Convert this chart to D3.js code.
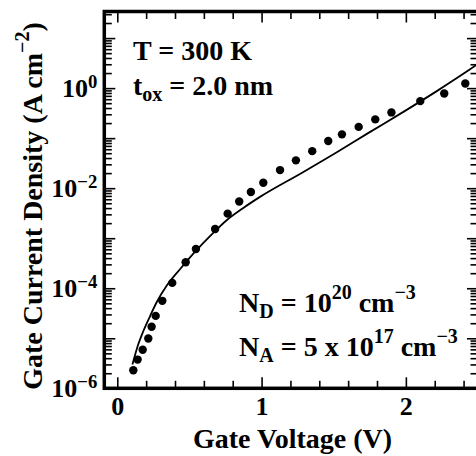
<!DOCTYPE html>
<html>
<head>
<meta charset="UTF-8">
<title>Gate Current Density vs Gate Voltage</title>
<style>
    body {
        margin: 0;
        background: #fff;
    }
    svg {
        display: block;
        font-family: "Liberation Serif", "Times New Roman", serif;
        font-weight: bold;
    }
</style>
</head>
<body>
<svg id="chart" width="476" height="456"></svg>
<script src="https://d3js.org/d3.v7.min.js"></script>
<script>
// measured gate current (dots)
const measV = [0.111, 0.141, 0.176, 0.215, 0.238, 0.266, 0.312, 0.381, 0.474, 0.545,
               0.678, 0.765, 0.845, 0.926, 1.012, 1.128, 1.238, 1.351, 1.462, 1.557,
               1.673, 1.788, 1.900, 2.100, 2.266, 2.412];
const measJ = [2.3e-6, 3.75e-6, 5.9e-6, 9.9e-6, 1.7e-5, 2.8e-5, 5.6e-5, 1.28e-4, 3.3e-4, 6.1e-4,
               1.53e-3, 3.1e-3, 5.4e-3, 8.4e-3, 1.28e-2, 2.3e-2, 3.6e-2, 5.5e-2, 8.8e-2, 0.119,
               0.168, 0.237, 0.327, 0.55, 0.78, 1.24];

// simulated gate current (solid line)
const simV = [0.105, 0.1455, 0.180, 0.2266, 0.273, 0.342, 0.4345, 0.527, 0.665, 0.758,
              0.871, 0.989, 1.287, 1.516, 1.744, 1.980, 2.209, 2.437, 2.513];
const simJ = [3.0e-6, 7.6e-6, 1.38e-5, 2.75e-5, 5.25e-5, 1.12e-4, 2.4e-4, 4.9e-4, 1.28e-3, 2.29e-3,
              3.98e-3, 6.7e-3, 2.09e-2, 5.13e-2, 0.129, 0.331, 0.851, 2.29, 3.24];

// axis ticks
const xMajor = [0, 1, 2];
const xMinor = [0.2, 0.4, 0.6, 0.8, 1.2, 1.4, 1.6, 1.8, 2.2, 2.4];
const yLabelled = [1e-6, 1e-4, 1e-2, 1];
const yExpLabels = ["\u22126", "\u22124", "\u22122", "0"];

const svg = d3.select("#chart");
const pl = 104.3, pr = 478, pt = 11.5, pb = 388.3;

const x = d3.scaleLinear().domain([-0.09, 2.5]).range([pl, pr]);
const y = d3.scaleLog().domain([1e-6, 34]).range([pb, pt]);

const yAll = y.ticks();
const yDecades = yAll.filter(d => Math.abs(Math.log10(d) - Math.round(Math.log10(d))) < 1e-9);
const yMinor = yAll.filter(d => !yDecades.includes(d));

const majLen = 11, minLen = 7.5;

function styleAxis(g) {
    g.attr("font-family", null).attr("font-size", 26);
    g.select(".domain").remove();
    g.selectAll(".tick line").attr("stroke", "#000").attr("stroke-width", 1.6);
    g.selectAll(".tick text").attr("fill", "#000");
}

// bottom axis
svg.append("g").attr("transform", `translate(0,${pb})`)
    .call(d3.axisBottom(x).tickValues(xMinor).tickSize(-minLen).tickFormat(""))
    .call(styleAxis);
svg.append("g").attr("transform", `translate(0,${pb})`)
    .call(d3.axisBottom(x).tickValues(xMajor).tickSize(-majLen).tickPadding(8).tickFormat(d3.format("d")))
    .call(styleAxis);

// top axis
svg.append("g").attr("transform", `translate(0,${pt})`)
    .call(d3.axisTop(x).tickValues(xMinor).tickSize(-minLen).tickFormat(""))
    .call(styleAxis);
svg.append("g").attr("transform", `translate(0,${pt})`)
    .call(d3.axisTop(x).tickValues(xMajor).tickSize(-majLen).tickFormat(""))
    .call(styleAxis);

// left axis
svg.append("g").attr("transform", `translate(${pl},0)`)
    .call(d3.axisLeft(y).tickValues(yMinor).tickSize(-minLen).tickFormat(""))
    .call(styleAxis);
const yMajG = svg.append("g").attr("transform", `translate(${pl},0)`)
    .call(d3.axisLeft(y).tickValues(yDecades).tickSize(-majLen).tickPadding(7).tickFormat(""))
    .call(styleAxis);
yMajG.selectAll(".tick text")
    .each(function(d) {
        const i = yLabelled.findIndex(v => Math.abs(v - d) / v < 1e-6);
        if (i < 0) return;
        const t = d3.select(this);
        t.text("10");
        t.append("tspan").attr("dy", "-0.5em").attr("font-size", "0.72em").text(yExpLabels[i]);
    });

// right axis
svg.append("g").attr("transform", `translate(${pr},0)`)
    .call(d3.axisRight(y).tickValues(yMinor).tickSize(-minLen).tickFormat(""))
    .call(styleAxis);
svg.append("g").attr("transform", `translate(${pr},0)`)
    .call(d3.axisRight(y).tickValues(yDecades).tickSize(-majLen).tickFormat(""))
    .call(styleAxis);

// frame
svg.append("rect")
    .attr("x", pl).attr("y", pt)
    .attr("width", pr - pl).attr("height", pb - pt)
    .attr("fill", "none").attr("stroke", "#000").attr("stroke-width", 3.5);

// data
svg.append("clipPath").attr("id", "clip")
    .append("rect").attr("x", pl).attr("y", pt)
    .attr("width", pr - pl).attr("height", pb - pt);

const plot = svg.append("g").attr("clip-path", "url(#clip)");

const simPts = simV.map((v, i) => [v, simJ[i]]);
plot.append("path")
    .datum(simPts)
    .attr("fill", "none")
    .attr("stroke", "#000")
    .attr("stroke-width", 1.8)
    .attr("d", d3.line().x(d => x(d[0])).y(d => y(d[1])).curve(d3.curveMonotoneX));

plot.selectAll("circle")
    .data(measV.map((v, i) => [v, measJ[i]]))
    .join("circle")
    .attr("cx", d => x(d[0]))
    .attr("cy", d => y(d[1]))
    .attr("r", 4.2)
    .attr("fill", "#000");

// annotations
const t1 = svg.append("text").attr("x", 133).attr("y", 60).attr("font-size", 28);
t1.text("T = 300 K");

const t2 = svg.append("text").attr("x", 133).attr("y", 95).attr("font-size", 28);
t2.append("tspan").text("t");
t2.append("tspan").attr("dy", 6).attr("font-size", 20).text("ox");
t2.append("tspan").attr("dy", -6).text(" = 2.0 nm");

const t3 = svg.append("text").attr("x", 239).attr("y", 312).attr("font-size", 28);
t3.append("tspan").text("N");
t3.append("tspan").attr("dy", 6).attr("font-size", 20).text("D");
t3.append("tspan").attr("dy", -6).text(" = 10");
t3.append("tspan").attr("dy", -13).attr("font-size", 20).text("20");
t3.append("tspan").attr("dy", 13).text(" cm");
t3.append("tspan").attr("dy", -13).attr("font-size", 20).text("\u22123");

const t4 = svg.append("text").attr("x", 239).attr("y", 356).attr("font-size", 28);
t4.append("tspan").text("N");
t4.append("tspan").attr("dy", 6).attr("font-size", 20).text("A");
t4.append("tspan").attr("dy", -6).text(" = 5 x 10");
t4.append("tspan").attr("dy", -13).attr("font-size", 20).text("17");
t4.append("tspan").attr("dy", 13).text(" cm");
t4.append("tspan").attr("dy", -13).attr("font-size", 20).text("\u22123");

// axis titles
svg.append("text")
    .attr("x", 292.5).attr("y", 448)
    .attr("text-anchor", "middle")
    .attr("font-size", 28)
    .text("Gate Voltage (V)");

const yt = svg.append("text")
    .attr("transform", "translate(42,206) rotate(-90)")
    .attr("text-anchor", "middle")
    .attr("font-size", 28);
yt.append("tspan").text("Gate Current Density (A cm");
yt.append("tspan").attr("dy", -13).attr("font-size", 20).text("\u22122");
yt.append("tspan").attr("dy", 13).text(")");
</script>
</body>
</html>
